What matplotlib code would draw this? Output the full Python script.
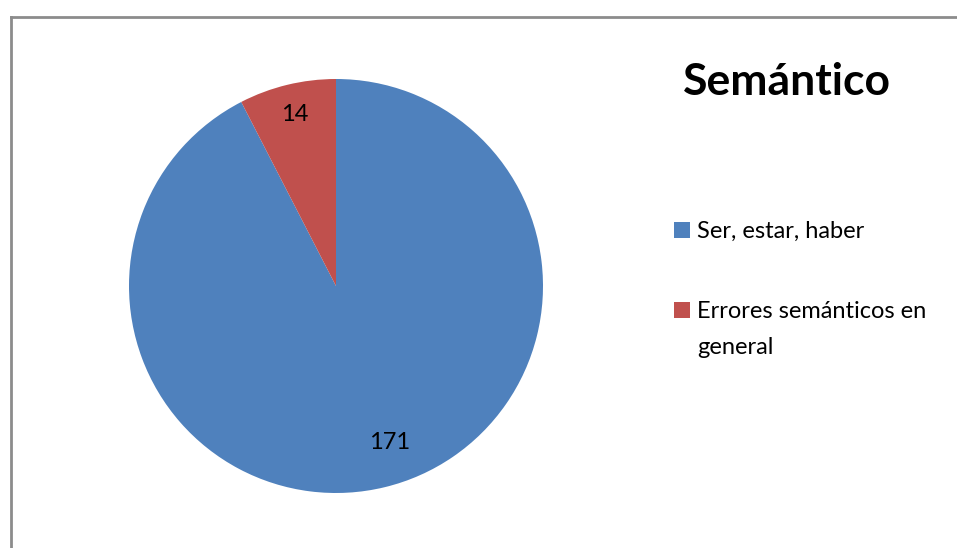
import matplotlib
matplotlib.use('Agg')
import math
import matplotlib.pyplot as plt
from matplotlib.patches import Rectangle
from matplotlib.lines import Line2D

categories = ['Ser, estar, haber', 'Errores semánticos en\ngeneral']
values = [171, 14]
colors = ['#4F81BD', '#C0504D']
title = 'Semántico'

W, H = 957, 548
plt.rcParams['font.family'] = ['Lato', 'DejaVu Sans']

fig = plt.figure(figsize=(W / 100, H / 100), dpi=100)


def fx(px):
    return px / W


def fy(py):
    return 1 - py / H


# outer chart frame (only top and left are inside the picture)
frame_kw = dict(color='#8c8c8c', linewidth=2, transform=fig.transFigure)
fig.add_artist(Line2D([fx(10.5), fx(10.5)], [fy(17), 0], **frame_kw))
fig.add_artist(Line2D([fx(10.5), 1], [fy(17), fy(17)], **frame_kw))

# pie axes: centre (336, 286), radius 207 px
cx, cy, r = 336, 286, 207
ax = fig.add_axes([fx(cx - r), fy(cy + r), (2 * r) / W, (2 * r) / H])
wedges, texts = ax.pie(values, colors=colors, startangle=90, counterclock=False,
                       labels=[str(v) for v in values], labeldistance=0.85,
                       radius=1, textprops=dict(fontsize=17, color='black'))
ax.set_xlim(-1, 1)
ax.set_ylim(-1, 1)
ax.set_aspect('auto')
# excel "best fit" puts the big label a bit off its mid angle
ang = math.radians(-71.3)
texts[0].set_position((0.80 * math.cos(ang), 0.80 * math.sin(ang)))
texts[0].set_ha('center')
texts[1].set_ha('center')

fig.text(fx(683), fy(95), title, fontsize=32, fontweight='bold',
         ha='left', va='baseline')

# legend
leg_base = [238, 318]
for lab, col, y in zip(categories, colors, leg_base):
    fig.add_artist(Rectangle((fx(674), fy(y)), 16 / W, 16 / H,
                             facecolor=col, edgecolor='none',
                             transform=fig.transFigure))
    fig.text(fx(697), fy(y), lab.split('\n')[0], fontsize=17,
             ha='left', va='baseline')
    for i, extra in enumerate(lab.split('\n')[1:], start=1):
        fig.text(fx(697), fy(y + 36 * i), extra, fontsize=17,
                 ha='left', va='baseline')

fig.savefig('out.png', dpi=100)
